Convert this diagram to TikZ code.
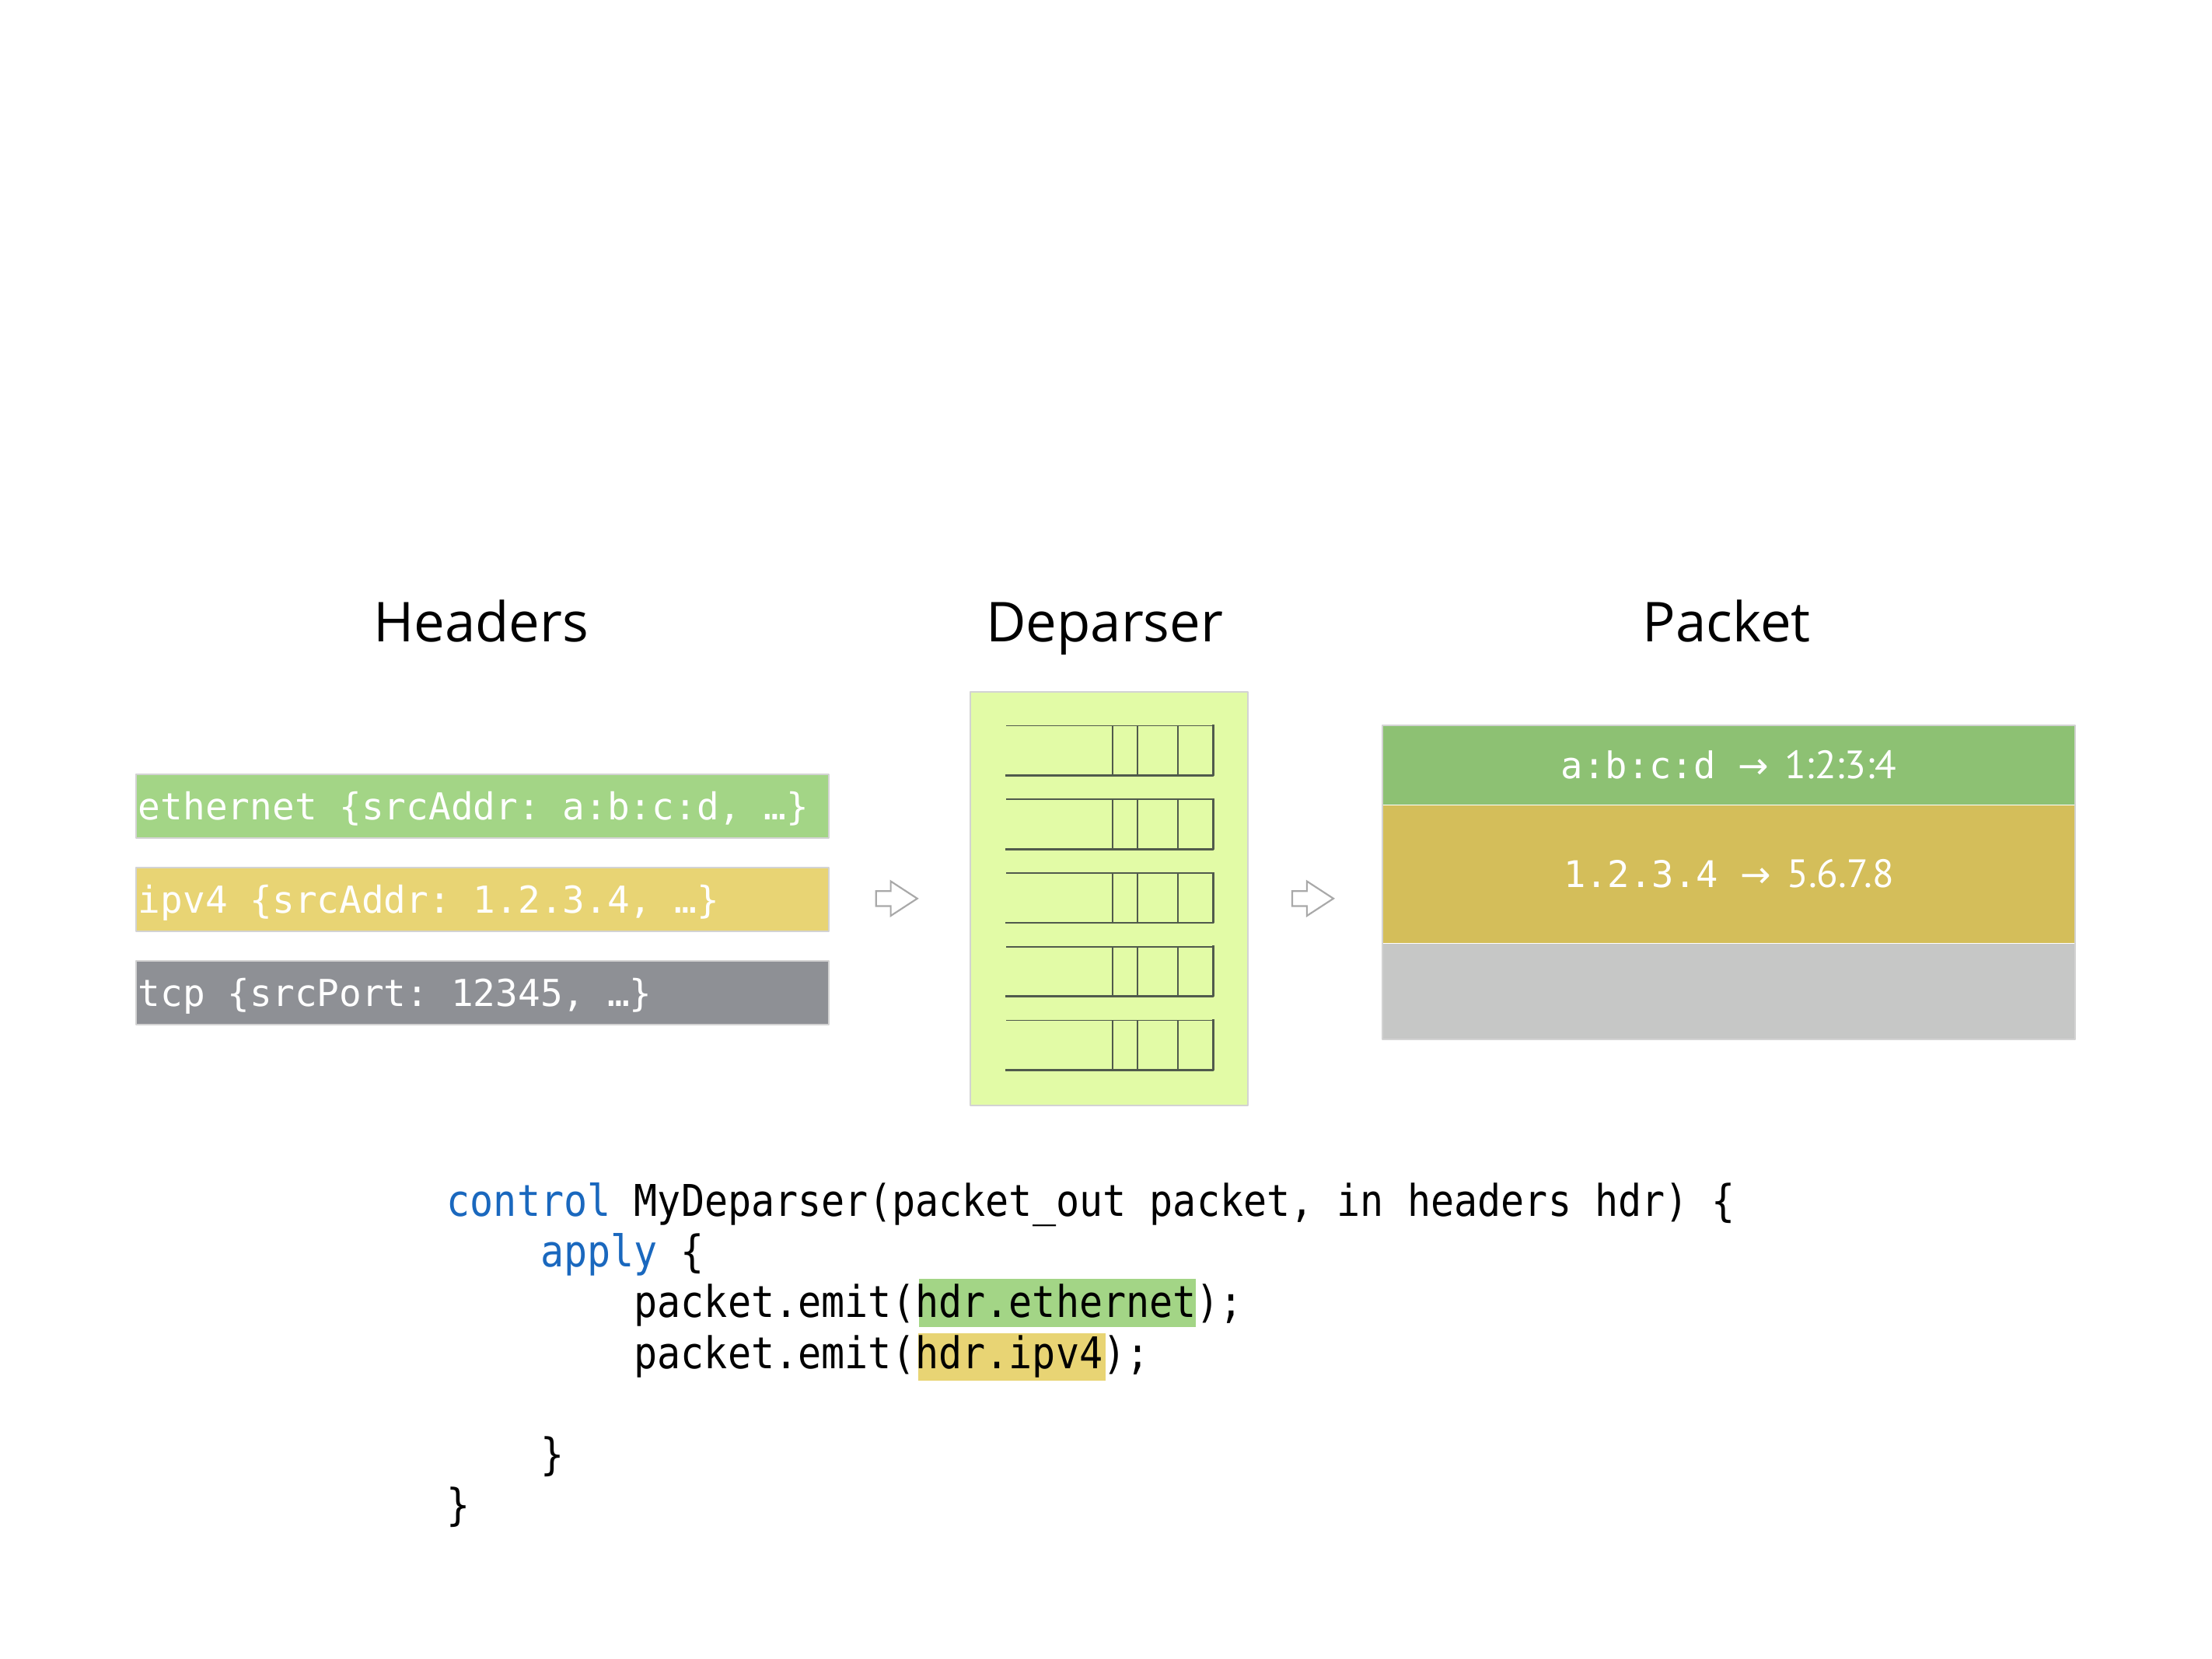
\documentclass[tikz,border=0pt]{standalone}
\usepackage{fontspec}
\setmainfont{Open Sans}
\newfontfamily\codefont[FakeStretch=0.89]{DejaVu Sans Mono}
\newfontfamily\hdrfont{DejaVu Sans Mono}
\newfontfamily\pktsans{PT Sans}
\newfontfamily\arrowfont{DejaVu Sans}
\usetikzlibrary{positioning}
\frenchspacing
\definecolor{ethgreen}{HTML}{A3D586}
\definecolor{ipyellow}{HTML}{E8D474}
\definecolor{tcpgray}{HTML}{8E9095}
\definecolor{pktgreen}{HTML}{8DC173}
\definecolor{pktyellow}{HTML}{D4BE5A}
\definecolor{pktgray}{HTML}{C6C7C6}
\definecolor{depfill}{HTML}{E2FBA6}
\definecolor{boxline}{HTML}{D3D3D3}
\definecolor{rowline}{HTML}{505A4C}
\definecolor{keyblue}{HTML}{1A68BE}
\definecolor{arrowgray}{HTML}{A9A9A9}
\tikzset{
  coltitle/.style={anchor=base, inner sep=0pt, font=\fontsize{39}{44}\selectfont},
  hdrbox/.style={anchor=north west, draw=boxline, line width=1.2pt, text=white,
    inner xsep=1.5pt, inner ysep=0pt, minimum height=45pt,
    text height=19pt, text depth=0pt, font=\hdrfont\fontsize{26.3}{30}\selectfont},
  pktrow/.style={anchor=north west, inner sep=0pt, minimum width=490.6pt,
    text=white, text height=19.2pt, text depth=0pt},
  hollow/.style={draw=arrowgray, line width=1.2pt, line join=miter},
  rowthin/.style={draw=rowline, line width=0.95pt},
  rowthick/.style={draw=rowline, line width=1.5pt},
  codeline/.style={anchor=base west, inner sep=0pt, font=\codefont\fontsize{31}{36}\selectfont}
}
\newcommand\hdrtext[1]{\makebox[488pt][l]{#1}}
\newcommand\pktaddr[2]{{\hdrfont\fontsize{26}{30}\selectfont #1}\hspace{16pt}%
  {\arrowfont\fontsize{26}{30}\selectfont →}\hspace{11pt}%
  {\pktsans\fontsize{28}{30}\selectfont #2}}
\begin{document}
\begin{tikzpicture}[x=1pt, y=-1pt, line join=round]
  \useasboundingbox (0,0) rectangle (1568,1176);
  \path
  (621,637) coordinate (a1)
  (916,637) coordinate (a2)
  ;
  \node[coltitle] (hdrtitle) at (341,454.7) {Headers};
  \node[coltitle] (deptitle) at (783,454.7) {Deparser};
  \node[coltitle] (pkttitle) at (1224,454.7) {Packet};

  \node[hdrbox, fill=ethgreen] (eth) at (96,548.4) {\hdrtext{ethernet \{srcAddr: a:b:c:d, …\}}};
  \node[hdrbox, fill=ipyellow] (ipv) at (96,614.5) {\hdrtext{ipv4 \{srcAddr: 1.2.3.4, …\}}};
  \node[hdrbox, fill=tcpgray] (tcp) at (96,680.7) {\hdrtext{tcp \{srcPort: 12345, …\}}};

  \foreach \c in {a1,a2}
  \draw[hollow] (\c) ++(0,-5.3) -- ++(10.4,0) -- ++(0,-6.95) -- ++(18.8,12.25)
    -- ++(-18.8,12.25) -- ++(0,-6.95) -- ++(-10.4,0) -- cycle;

  \node[draw=boxline, line width=1.2pt, fill=depfill, anchor=north west, inner sep=0pt,
    minimum width=197pt, minimum height=293pt] (dep) at (687,490) {};
  \foreach \i in {0,...,4}{
    \pgfmathsetmacro\t{514.5+52.2*\i}
    \draw[rowthin] (713.2,\t) -- (860.2,\t) (788.5,\t) -- ++(0,35.3)
      (806.4,\t) -- ++(0,35.3) (835.1,\t) -- ++(0,35.3);
    \draw[rowthick, line cap=rect] (713.2,\t+35.3) -- (860.2,\t+35.3) -- (860.2,\t);
  }

  \node[pktrow, fill=pktgreen, minimum height=56pt] (pkteth) at (980,514.4)
    {\pktaddr{a:b:c:d}{1:2:3:4}};
  \node[pktrow, fill=pktyellow, minimum height=97.4pt, below=0pt of pkteth] (pktip)
    {\pktaddr{1.2.3.4}{5.6.7.8}};
  \node[pktrow, fill=pktgray, minimum height=68pt, below=0pt of pktip] (pkttcp) {};
  \draw[boxline, line width=1.2pt] (pkteth.north west) rectangle (pkttcp.south east);

  \fill[ethgreen] (651.3,906.6) rectangle (847.8,940.6);
  \fill[ipyellow] (650.7,945.2) rectangle (783.6,978.6);
  \node[codeline] (c1) at (316.5,862) {{\color{keyblue}control} MyDeparser(packet\_out packet, in headers hdr) \{};
  \node[codeline] (c2) at (382.9,898) {{\color{keyblue}apply} \{};
  \node[codeline] (c3) at (449.3,934) {packet.emit(hdr.ethernet);};
  \node[codeline] (c4) at (449.3,970) {packet.emit(hdr.ipv4);};
  \node[codeline] (c5) at (382.9,1042) {\}};
  \node[codeline] (c6) at (316.5,1078) {\}};
\end{tikzpicture}
\end{document}
